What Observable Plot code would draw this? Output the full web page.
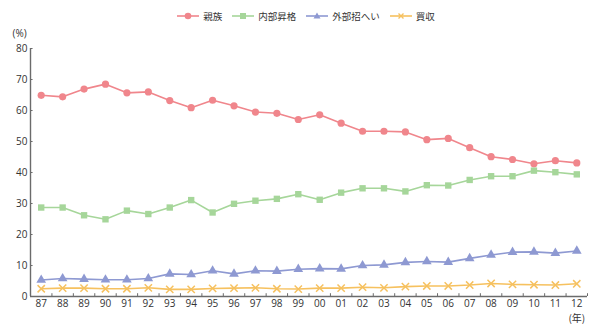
<!DOCTYPE html>
<html>
<head>
<meta charset="utf-8">
<script src="https://cdn.jsdelivr.net/npm/d3@7"></script>
<script src="https://cdn.jsdelivr.net/npm/@observablehq/plot@0.6"></script>
<style>
  html, body { margin: 0; padding: 0; background: #fff; }
  body { width: 606px; height: 328px; overflow: hidden; font-family: "Noto Sans CJK JP", "Noto Sans", sans-serif; }
  #legend { height: 24px; display: flex; justify-content: center; align-items: center; gap: 10px; font-size: 9.5px; color: #333; padding-top: 8px; box-sizing: border-box; padding-left: 6px; }
  .item { display: flex; align-items: center; gap: 4px; }
  svg { display: block; }
</style>
</head>
<body>
<div id="legend"></div>
<div id="chart"></div>
<script>
const years = ["87","88","89","90","91","92","93","94","95","96","97","98","99","00","01","02","03","04","05","06","07","08","09","10","11","12"];
const seriesNames = ["親族", "内部昇格", "外部招へい", "買収"];
const seriesColors = ["#f0868c", "#a6d69a", "#8e99d2", "#f6c15f"];
const seriesSymbols = ["circle", "square", "triangle", "times"];

const shinzoku = [64.9, 64.4, 66.9, 68.5, 65.7, 66.0, 63.2, 60.9, 63.3, 61.5, 59.5, 59.1, 57.1, 58.6, 55.9, 53.3, 53.3, 53.1, 50.6, 51.0, 48.0, 45.1, 44.2, 42.8, 43.8, 43.1];
const naibu    = [28.7, 28.7, 26.2, 24.9, 27.7, 26.6, 28.7, 31.1, 27.1, 29.9, 30.9, 31.5, 33.0, 31.2, 33.5, 34.9, 34.9, 33.9, 35.9, 35.8, 37.6, 38.8, 38.8, 40.6, 40.1, 39.4];
const gaibu    = [5.3, 5.8, 5.6, 5.4, 5.4, 5.8, 7.3, 7.1, 8.3, 7.3, 8.3, 8.2, 8.8, 9.0, 8.9, 10.0, 10.2, 11.0, 11.3, 11.1, 12.3, 13.4, 14.3, 14.4, 14.0, 14.7];
const baishu   = [2.5, 2.7, 2.7, 2.5, 2.5, 2.8, 2.3, 2.3, 2.6, 2.7, 2.8, 2.5, 2.4, 2.7, 2.7, 3.0, 2.8, 3.2, 3.4, 3.4, 3.7, 4.2, 3.9, 3.8, 3.7, 4.1];
const yTicks = [0, 10, 20, 30, 40, 50, 60, 70, 80];

const seriesValues = [shinzoku, naibu, gaibu, baishu];
const rows = [];
seriesNames.forEach((name, s) => {
  seriesValues[s].forEach((v, i) => rows.push({series: name, i, year: years[i], value: v}));
});
const boundaries = d3.range(-0.5, years.length, 1);

// Legend
const legend = document.getElementById("legend");
seriesNames.forEach((name, s) => {
  const c = seriesColors[s];
  let marker;
  if (s === 0) marker = `<circle cx="11" cy="5" r="3.3" fill="${c}"/>`;
  else if (s === 1) marker = `<rect x="8" y="2" width="6" height="6" fill="${c}"/>`;
  else if (s === 2) marker = `<path d="M11,1.6L14.5,7.6L7.5,7.6Z" fill="${c}"/>`;
  else marker = `<path d="M8.5,2.5L13.5,7.5M13.5,2.5L8.5,7.5" stroke="${c}" stroke-width="1.4"/>`;
  const el = document.createElement("div");
  el.className = "item";
  el.innerHTML = `<svg width="22" height="10"><line x1="0" x2="22" y1="5" y2="5" stroke="${c}" stroke-width="1.6"/>${marker}</svg><span>${name}</span>`;
  legend.appendChild(el);
});

const axisColor = "#6b6b6b";
const chart = Plot.plot({
  width: 606,
  height: 304,
  marginLeft: 30,
  marginRight: 19,
  marginTop: 24,
  marginBottom: 32,
  style: {fontFamily: "'Open Sans', 'Noto Sans', sans-serif", fontSize: "10px", color: "#333", background: "#fff"},
  x: {type: "linear", domain: [-0.5, years.length - 0.5], axis: null},
  y: {domain: [0, 80], axis: null},
  color: {domain: seriesNames, range: seriesColors},
  symbol: {domain: seriesNames, range: seriesSymbols},
  marks: [
    Plot.axisX(d3.range(years.length), {label: null, tickSize: 0, tickPadding: 3, tickFormat: (d) => years[d], fill: "#333", fontSize: 10}),
    Plot.axisY(yTicks, {label: null, tickSize: 0, tickPadding: 3, fill: "#333", fontSize: 10}),
    Plot.ruleY([0], {stroke: axisColor, strokeWidth: 1.4}),
    Plot.ruleX([-0.5], {y1: 0, y2: 80, stroke: axisColor, strokeWidth: 1.4}),
    Plot.ruleY(yTicks, {y: (d) => d, x1: -0.5, x2: -0.38, stroke: axisColor, strokeWidth: 1}),
    Plot.ruleX(boundaries, {x: (d) => d, y1: 0, y2: 0.9, stroke: axisColor, strokeWidth: 1}),
    Plot.line(rows, {x: "i", y: "value", z: "series", stroke: "series", strokeWidth: 1.6}),
    Plot.dot(rows.filter((d) => d.series !== "買収"), {x: "i", y: "value", fill: "series", symbol: "series", r: 3.6}),
    Plot.dot(rows.filter((d) => d.series === "買収"), {x: "i", y: "value", stroke: "series", symbol: "series", r: 3.4, strokeWidth: 1.5}),
    Plot.text(["(%)"], {frameAnchor: "top-left", dx: -18, dy: -19, text: (d) => d, fill: "#333", fontSize: 10, textAnchor: "start"}),
    Plot.text(["(年)"], {x: () => years.length - 1, y: () => 0, dy: 22, text: (d) => d, fill: "#333", fontSize: 10, fontFamily: "Noto Sans CJK JP"})
  ]
});
document.getElementById("chart").appendChild(chart);
</script>
</body>
</html>
